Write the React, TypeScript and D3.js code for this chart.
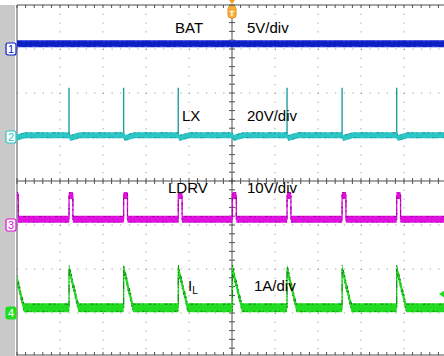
import React from 'react';
import * as d3 from 'd3';

const W = 444;
const H = 356;

// switching instants, divisions from the left edge of the screen
const switchTimes = [-0.06, 1.21, 2.48, 3.75, 5.01, 6.28, 7.56, 8.83];
const lxSpikeTimes = [1.21, 2.48, 3.75, 6.28, 7.56, 8.83];

// trace levels, divisions from the centre line
const groundLevels = [3, 1, -1, -3];
const batLevel = 3.12;
const lxBase = 1.04;
const lxSpikeTop = 2.12;
const lxDip = 0.06;
const lxRecover = 0.25;
const ldrvLow = -0.87;
const ldrvHigh = -0.33;
const ldrvWidth = 0.09;
const ilBase = -2.88;
const ilPeak = -1.99;
const ilFall = 0.22;
const triggerLevel = -2.57;

const channelNames = ['BAT', 'LX', 'LDRV', 'I'];
const channelScales = ['5V/div', '20V/div', '10V/div', '1A/div'];

const colors = ['#0c1fc4', '#2cc6c6', '#e010e0', '#22dd22'];
const font = 'Liberation Sans, Arial, sans-serif';

function App() {
  const x = d3.scaleLinear().domain([0, 10]).range([17, 447]);
  const y = d3.scaleLinear().domain([-4, 4]).range([357, 5]);

  const band = (h: number) =>
    d3.area<number[]>()
      .x(d => x(d[0]))
      .y0(d => y(d[1]) + h)
      .y1(d => y(d[1]) - h);
  const line = d3.line<number[]>().x(d => x(d[0])).y(d => y(d[1]));

  const batPts = [[-0.5, batLevel], [10.5, batLevel]];

  const lxPts: number[][] = [[-0.5, lxBase]];
  switchTimes.forEach(t => {
    lxPts.push([t, lxBase], [t + 0.03, lxBase - lxDip], [t + lxRecover, lxBase]);
  });
  lxPts.push([10.5, lxBase]);

  const ldrvPts: number[][] = [[-0.5, ldrvLow]];
  switchTimes.forEach(t => {
    ldrvPts.push([t, ldrvLow], [t, ldrvHigh], [t + ldrvWidth, ldrvHigh], [t + ldrvWidth, ldrvLow]);
  });
  ldrvPts.push([10.5, ldrvLow]);

  const ilPts: number[][] = [[-0.5, ilBase]];
  switchTimes.forEach(t => {
    ilPts.push([t, ilBase], [t, ilPeak], [t + ilFall, ilBase]);
  });
  ilPts.push([10.5, ilBase]);

  const traces = [
    { pts: batPts, h: 3.5, color: colors[0], edge: '#4a5cf0' },
    { pts: lxPts, h: 3, color: colors[1], edge: '#1b8f8f' },
    { pts: ldrvPts, h: 3.5, color: colors[2], edge: '#a000a0' },
    { pts: ilPts, h: 4.5, color: colors[3], edge: '#137a13' },
  ];

  const majorX = d3.range(1, 10).filter(i => i !== 5);
  const majorY = d3.range(-3, 4).filter(j => j !== 0);
  const minorX = d3.range(0, 10.01, 0.2);
  const minorY = d3.range(-4, 4.01, 0.2);
  const cx = x(5);
  const cy = y(0);
  const grid = '#8a8a8a';
  const axis = '#505050';

  const labelPos = [
    { x: 175, y: 33 },
    { x: 182, y: 121 },
    { x: 168, y: 193 },
    { x: 188, y: 291 },
  ];
  const scalePos = [247, 247, 247, 254];

  return (
    <svg width={W} height={H} style={{ position: 'absolute', left: 0, top: 0, background: '#fff' }}>
      <defs>
        <clipPath id="plot">
          <rect x={17} y={5} width={W - 17} height={350} />
        </clipPath>
      </defs>

      {/* left strip */}
      <rect x={0} y={5} width={15} height={H - 5} fill="#c9c9c9" />

      {/* dotted graticule */}
      {majorX.map(i => (
        <line key={'vx' + i} x1={x(i)} x2={x(i)} y1={5} y2={355}
          stroke={grid} strokeWidth={1} strokeDasharray="1 7.8" />
      ))}
      {majorY.map(j => (
        <line key={'hy' + j} x1={17} x2={W} y1={y(j)} y2={y(j)}
          stroke={grid} strokeWidth={1} strokeDasharray="1 7.6" />
      ))}

      {/* border */}
      <line x1={17} x2={W} y1={5} y2={5} stroke={axis} />
      <line x1={17} x2={W} y1={355} y2={355} stroke={axis} />
      <line x1={17} x2={17} y1={5} y2={356} stroke={axis} />
      {minorX.map((t, i) => (
        <g key={'bt' + i}>
          <line x1={x(t)} x2={x(t)} y1={5} y2={8} stroke={axis} />
          <line x1={x(t)} x2={x(t)} y1={352} y2={355} stroke={axis} />
        </g>
      ))}

      {/* centre lines */}
      <line x1={17} x2={W} y1={cy} y2={cy} stroke={axis} />
      <line x1={cx} x2={cx} y1={5} y2={355} stroke={axis} />
      {minorX.map((t, i) => (
        <line key={'cxt' + i} x1={x(t)} x2={x(t)} y1={cy - 3} y2={cy + 3} stroke={axis} />
      ))}
      {minorY.map((v, i) => (
        <line key={'cyt' + i} x1={cx - 3} x2={cx + 3} y1={y(v)} y2={y(v)} stroke={axis} />
      ))}

      {/* traces */}
      <g clipPath="url(#plot)">
        {lxSpikeTimes.map((t, i) => (
          <line key={'sp' + i} x1={x(t)} x2={x(t)} y1={y(lxBase)} y2={y(lxSpikeTop)}
            stroke="#1f9e9e" strokeWidth={1.4} />
        ))}
        {traces.map((tr, i) => (
          <g key={'tr' + i}>
            <path d={band(tr.h)(tr.pts) || ''} fill={tr.color} />
            <path d={line(tr.pts) || ''} fill="none" stroke={tr.color} strokeWidth={1.3} />
            <path d={line(tr.pts.map(p => [p[0], p[1] + tr.h / 44 * 0.8])) || ''} fill="none"
              stroke={tr.edge} strokeWidth={1} strokeDasharray="2 3 1 5 3 2" />
            <path d={line(tr.pts.map(p => [p[0], p[1] - tr.h / 44 * 0.8])) || ''} fill="none"
              stroke={tr.edge} strokeWidth={1} strokeDasharray="1 4 2 2 1 6" />
          </g>
        ))}
      </g>

      {/* trigger level marker */}
      <path d={`M${W - 5},${y(triggerLevel)} L${W + 1},${y(triggerLevel) - 4} L${W + 1},${y(triggerLevel) + 4} Z`}
        fill={colors[3]} />

      {/* trigger position marker */}
      <path d={`M${cx - 3},0 L${cx + 3},0 L${cx},4 Z`} fill="#f0a020" />
      <rect x={cx - 4} y={6} width={8} height={12} rx={3} fill="#f5b040" stroke="#e89010" />
      <text x={cx} y={15.5} textAnchor="middle" fontFamily={font} fontSize={8} fontWeight="bold" fill="#fff">T</text>

      {/* channel ground markers */}
      {groundLevels.map((g, i) => (
        <g key={'gm' + i}>
          <rect x={6} y={y(g) - 6} width={10} height={12} rx={2}
            fill={i === 3 ? colors[3] : '#fff'} stroke={colors[i]} strokeWidth={1.2} />
          <text x={11} y={y(g) + 4} textAnchor="middle" fontFamily={font} fontSize={11}
            fill={i === 3 ? '#fff' : colors[i]}>{i + 1}</text>
        </g>
      ))}

      {/* labels */}
      {channelNames.map((n, i) => (
        <text key={'ln' + i} x={labelPos[i].x} y={labelPos[i].y} fontFamily={font} fontSize={15} fill="#000">
          {n}
          {i === 3 && <tspan fontSize={10} dy={3}>L</tspan>}
        </text>
      ))}
      {channelScales.map((s, i) => (
        <text key={'ls' + i} x={scalePos[i]} y={labelPos[i].y} fontFamily={font} fontSize={15} fill="#000">
          {s}
        </text>
      ))}
    </svg>
  );
}

export default App;
